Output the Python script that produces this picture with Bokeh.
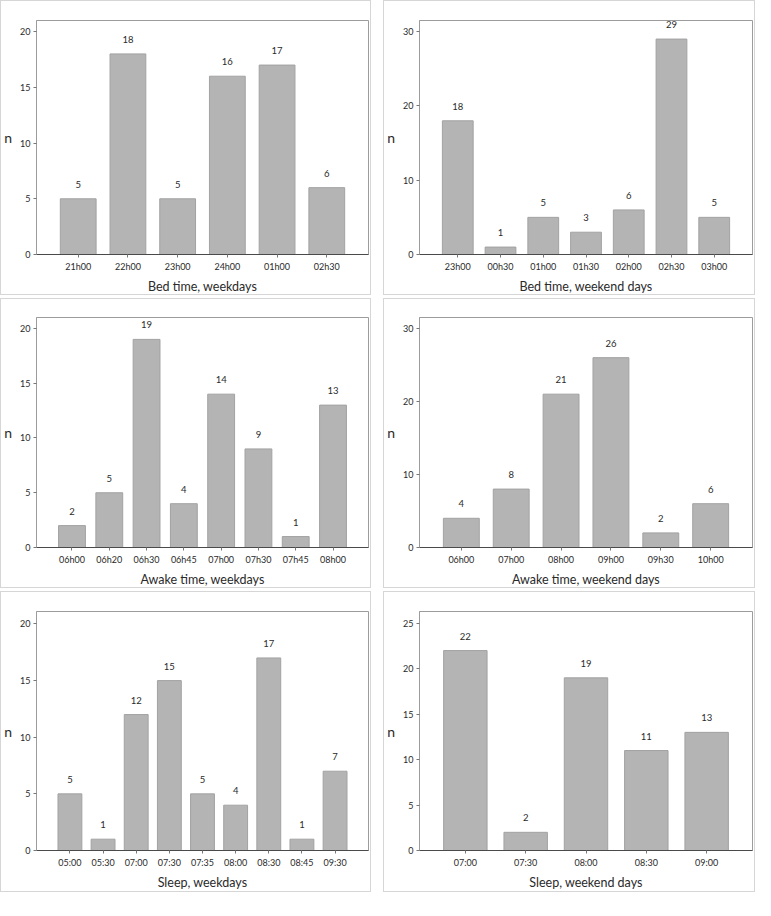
from bokeh.plotting import figure
from bokeh.layouts import column, row
from bokeh.models import FactorRange, Range1d, FixedTicker, ColumnDataSource, LabelSet
from bokeh.core.properties import value
from bokeh.embed import file_html
from bokeh.resources import INLINE

# ---- data ----
bed_wd_cats = ["21h00", "22h00", "23h00", "24h00", "01h00", "02h30"]
bed_wd_n = [5, 18, 5, 16, 17, 6]
bed_we_cats = ["23h00", "00h30", "01h00", "01h30", "02h00", "02h30", "03h00"]
bed_we_n = [18, 1, 5, 3, 6, 29, 5]
awake_wd_cats = ["06h00", "06h20", "06h30", "06h45", "07h00", "07h30", "07h45", "08h00"]
awake_wd_n = [2, 5, 19, 4, 14, 9, 1, 13]
awake_we_cats = ["06h00", "07h00", "08h00", "09h00", "09h30", "10h00"]
awake_we_n = [4, 8, 21, 26, 2, 6]
sleep_wd_cats = ["05:00", "05:30", "07:00", "07:30", "07:35", "08:00", "08:30", "08:45", "09:30"]
sleep_wd_n = [5, 1, 12, 15, 5, 4, 17, 1, 7]
sleep_we_cats = ["07:00", "07:30", "08:00", "08:30", "09:00"]
sleep_we_n = [22, 2, 19, 11, 13]

ticks_20 = [0, 5, 10, 15, 20]
ticks_30 = [0, 10, 20, 30]
ticks_25 = [0, 5, 10, 15, 20, 25]

FONT = "Lato"
TXT = "#2a2a2a"


def panel(cats, vals, xlabel, ymax, yticks, width, height, top, bottom, pad=0.113):
    src = ColumnDataSource(dict(cat=cats, n=vals, lab=[str(v) for v in vals]))
    p = figure(x_range=FactorRange(factors=cats, range_padding=pad),
               y_range=Range1d(0, ymax),
               width=width, height=height, output_backend="svg",
               toolbar_location=None, tools="",
               min_border_left=31, min_border_right=4,
               min_border_top=top, min_border_bottom=bottom,
               background_fill_color="white", border_fill_color="white",
               styles={"border": "1px solid #d6d6d6"})
    p.vbar(x="cat", top="n", width=0.72, source=src,
           fill_color="#b4b4b4", line_color="#a2a2a2", line_width=1)
    labels = LabelSet(x="cat", y="n", text="lab", source=src, y_offset=11,
                      text_align="center", text_baseline="bottom",
                      text_font=value(FONT), text_font_size="9.5px",
                      text_color=TXT)
    p.add_layout(labels)

    p.xgrid.visible = False
    p.ygrid.visible = False
    p.outline_line_color = "#9c9c9c"
    p.outline_line_width = 1

    p.yaxis.ticker = FixedTicker(ticks=yticks)
    p.yaxis.axis_label = "n"
    p.yaxis.axis_label_orientation = "horizontal"
    p.yaxis.axis_line_color = "#9c9c9c"
    p.xaxis.axis_line_color = "#4a4a4a"
    p.xaxis.axis_label = xlabel
    for ax in (p.xaxis, p.yaxis):
        ax.major_tick_in = 0
        ax.major_tick_out = 3
        ax.minor_tick_line_color = None
        ax.major_tick_line_color = "#777777"
        ax.major_label_text_font = FONT
        ax.major_label_text_font_size = "9px"
        ax.major_label_text_color = TXT
        ax.axis_label_text_font = FONT
        ax.axis_label_text_font_style = "normal"
        ax.axis_label_text_color = TXT
        ax.major_label_standoff = 3
    p.xaxis.axis_label_standoff = 4
    p.yaxis.axis_label_standoff = 5
    p.xaxis.axis_label_text_font_size = "12.5px"
    p.yaxis.axis_label_text_font_size = "14px"
    return p


WL, WR = 371, 372
p1 = panel(bed_wd_cats, bed_wd_n, "Bed time, weekdays", 21.0, ticks_20, WL, 295, 19, 40)
p2 = panel(bed_we_cats, bed_we_n, "Bed time, weekend days", 31.5, ticks_30, WR, 295, 19, 40)
p3 = panel(awake_wd_cats, awake_wd_n, "Awake time, weekdays", 21.0, ticks_20, WL, 290, 18, 38)
p4 = panel(awake_we_cats, awake_we_n, "Awake time, weekend days", 31.5, ticks_30, WR, 290, 18, 40)
p5 = panel(sleep_wd_cats, sleep_wd_n, "Sleep, weekdays", 21.1, ticks_20, WL, 301, 19, 41)
p6 = panel(sleep_we_cats, sleep_we_n, "Sleep, weekend days", 26.3, ticks_25, WR, 301, 19, 43, pad=0.104)

layout = column(row(p1, p2, spacing=12), row(p3, p4, spacing=12), row(p5, p6, spacing=12), spacing=3)

open("out.html", "w").write(file_html(layout, INLINE))
